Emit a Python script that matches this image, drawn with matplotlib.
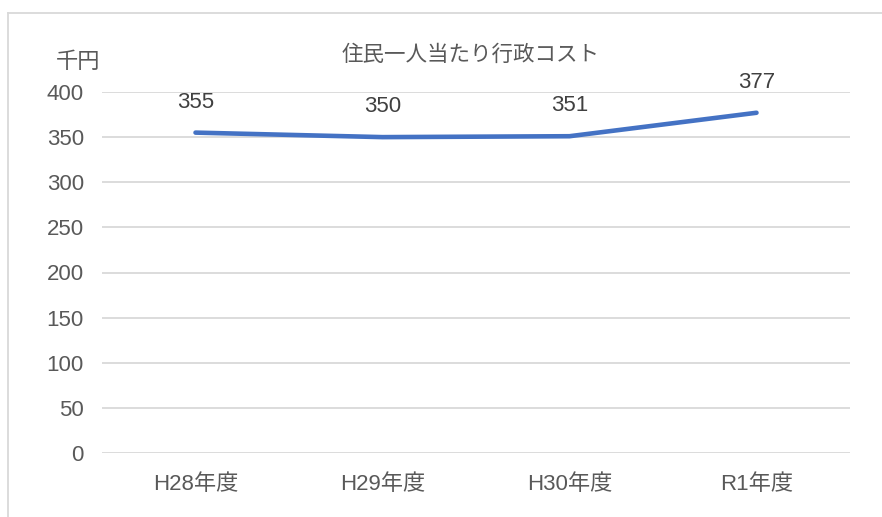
import matplotlib
matplotlib.use("Agg")
import matplotlib.pyplot as plt
from matplotlib.lines import Line2D

categories = ["H28年度", "H29年度", "H30年度", "R1年度"]
values = [355, 350, 351, 377]
yticks = [0, 50, 100, 150, 200, 250, 300, 350, 400]
title = "住民一人当たり行政コスト"
unit = "千円"

plt.rcParams['font.family'] = ['Liberation Sans', 'Noto Sans CJK JP', 'DejaVu Sans']

W, H = 882, 517
fig = plt.figure(figsize=(W / 100, H / 100), dpi=100)
ax = fig.add_axes([102 / W, 1 - 453 / H, (850 - 102) / W, (453 - 92) / H])

x = list(range(len(categories)))
ax.plot(x, values, color="#4472C4", linewidth=3.3, solid_capstyle="round", zorder=3)
for xi, v in zip(x, values):
    ax.annotate(str(v), (xi, v), xytext=(0, 22), textcoords="offset points",
                ha="center", va="center", fontsize=16, color="#404040")

ax.set_xlim(-0.5, len(categories) - 0.5)
ax.set_ylim(0, 400)
ax.set_yticks(yticks)
ax.set_xticks(x)
ax.set_xticklabels(categories)
ax.grid(axis="y", color="#D9D9D9", linewidth=1.3)
ax.set_axisbelow(True)
for s in ax.spines.values():
    s.set_visible(False)
ax.tick_params(axis="both", length=0, labelsize=16, labelcolor="#595959")
ax.tick_params(axis="y", pad=13)
ax.tick_params(axis="x", pad=15)

fig.text(471 / W, 1 - 55 / H, title, ha="center", va="center", fontsize=15.5, color="#595959")
fig.text(78 / W, 1 - 62 / H, unit, ha="center", va="center", fontsize=16, color="#595959")

fig.add_artist(Line2D([8 / W, 8 / W], [0, 1 - 13 / H], color="#D9D9D9", linewidth=1.3, transform=fig.transFigure))
fig.add_artist(Line2D([8 / W, 1], [1 - 13 / H, 1 - 13 / H], color="#D9D9D9", linewidth=1.3, transform=fig.transFigure))

fig.savefig("out.png", dpi=100, facecolor="white")
